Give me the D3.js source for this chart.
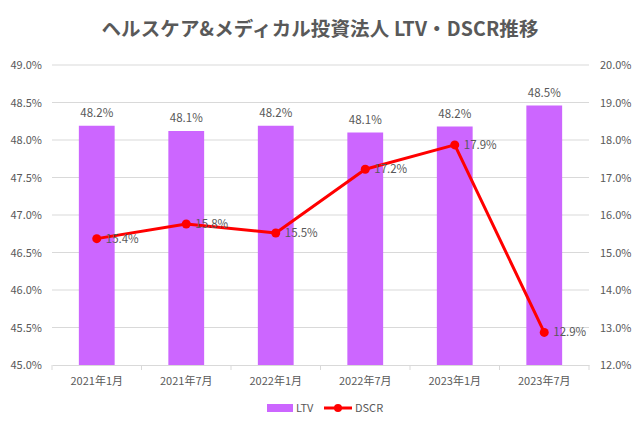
<!DOCTYPE html>
<html><head><meta charset="utf-8">
<script src="https://cdn.jsdelivr.net/npm/d3@7"></script>
<style>body{margin:0;background:#fff}svg{display:block}</style>
</head><body>
<script>
const categories = ["2021年1月","2021年7月","2022年1月","2022年7月","2023年1月","2023年7月"];
const ltv = [48.19, 48.12, 48.19, 48.10, 48.18, 48.46];
const dscr = [15.37, 15.76, 15.52, 17.22, 17.87, 12.87];
const leftTicks = [45.0,45.5,46.0,46.5,47.0,47.5,48.0,48.5,49.0];
const rightTicks = [12,13,14,15,16,17,18,19,20];
const title = "ヘルスケア&メディカル投資法人 LTV・DSCR推移";

const W=640,H=427;
const font = "'Noto Sans CJK JP','Noto Sans',sans-serif";
const gray = "#595959";
const svg = d3.select("body").append("svg").attr("width",W).attr("height",H)
  .style("font-family",font);
svg.append("rect").attr("width",W).attr("height",H).attr("fill","#fff");

const m={l:52,r:589,t:65,b:365};
const x = d3.scaleBand().domain(categories).range([m.l,m.r]).paddingInner(0.6).paddingOuter(0.3);
const band = d3.scaleBand().domain(categories).range([m.l,m.r]);
const yL = d3.scaleLinear().domain([45,49]).range([m.b,m.t]);
const yR = d3.scaleLinear().domain([12,20]).range([m.b,m.t]);

svg.append("text").attr("x",320).attr("y",36).attr("text-anchor","middle")
  .attr("font-size",19.5).attr("font-weight","bold").attr("fill",gray)
  .attr("textLength",437).attr("lengthAdjust","spacing").text(title);

// gridlines
svg.append("g").selectAll("line").data(leftTicks.slice(1)).join("line")
  .attr("x1",m.l).attr("x2",m.r).attr("y1",d=>yL(d)).attr("y2",d=>yL(d))
  .attr("stroke","#d9d9d9").attr("stroke-width",1);

// left axis
const gL = svg.append("g").attr("transform",`translate(${m.l},0)`)
  .call(d3.axisLeft(yL).tickValues(leftTicks).tickFormat(d=>d.toFixed(1)+"%").tickSize(0).tickPadding(10));
gL.select(".domain").remove();
gL.selectAll("text").attr("fill",gray).attr("font-size",11).style("font-family",font);

// right axis
const gR = svg.append("g").attr("transform",`translate(${m.r},0)`)
  .call(d3.axisRight(yR).tickValues(rightTicks).tickFormat(d=>d.toFixed(1)+"%").tickSize(0).tickPadding(11));
gR.select(".domain").remove();
gR.selectAll("text").attr("fill",gray).attr("font-size",11).style("font-family",font);

// bottom axis
const gB = svg.append("g").attr("transform",`translate(0,${m.b})`)
  .call(d3.axisBottom(band).tickSize(0).tickPadding(12));
gB.select(".domain").attr("stroke","#d9d9d9");
gB.selectAll("text").attr("fill",gray).attr("font-size",11).style("font-family",font);
svg.append("g").selectAll("line").data(d3.range(categories.length+1)).join("line")
  .attr("x1",i=>m.l+i*band.step()).attr("x2",i=>m.l+i*band.step())
  .attr("y1",m.b).attr("y2",m.b+5).attr("stroke","#d9d9d9");

// bars
svg.append("g").selectAll("rect").data(ltv).join("rect")
  .attr("x",(d,i)=>x(categories[i])).attr("width",x.bandwidth())
  .attr("y",d=>yL(d)).attr("height",d=>m.b-yL(d)).attr("fill","#CC66FF");
svg.append("g").selectAll("text").data(ltv).join("text")
  .attr("x",(d,i)=>band(categories[i])+band.bandwidth()/2).attr("y",d=>yL(d)-9)
  .attr("text-anchor","middle").attr("font-size",11.5).attr("fill",gray)
  .text(d=>d.toFixed(1)+"%");

// line
const cx = i=>band(categories[i])+band.bandwidth()/2;
svg.append("path").datum(dscr)
  .attr("d",d3.line().x((d,i)=>cx(i)).y(d=>yR(d)))
  .attr("fill","none").attr("stroke","#FF0000").attr("stroke-width",3).attr("stroke-linejoin","round");
svg.append("g").selectAll("circle").data(dscr).join("circle")
  .attr("cx",(d,i)=>cx(i)).attr("cy",d=>yR(d)).attr("r",4.5).attr("fill","#FF0000");
svg.append("g").selectAll("text").data(dscr).join("text")
  .attr("x",(d,i)=>cx(i)+9).attr("y",d=>yR(d)+4)
  .attr("font-size",11.5).attr("fill",gray).text(d=>d.toFixed(1)+"%");

// legend
const lg = svg.append("g");
lg.append("rect").attr("x",267).attr("y",404).attr("width",26).attr("height",8).attr("fill","#CC66FF");
lg.append("text").attr("x",296).attr("y",412).attr("font-size",11).attr("fill",gray).text("LTV");
lg.append("line").attr("x1",324).attr("x2",352).attr("y1",408).attr("y2",408).attr("stroke","#FF0000").attr("stroke-width",3);
lg.append("circle").attr("cx",338).attr("cy",408).attr("r",4).attr("fill","#FF0000");
lg.append("text").attr("x",355).attr("y",412).attr("font-size",11).attr("fill",gray).text("DSCR");
</script>
</body></html>
